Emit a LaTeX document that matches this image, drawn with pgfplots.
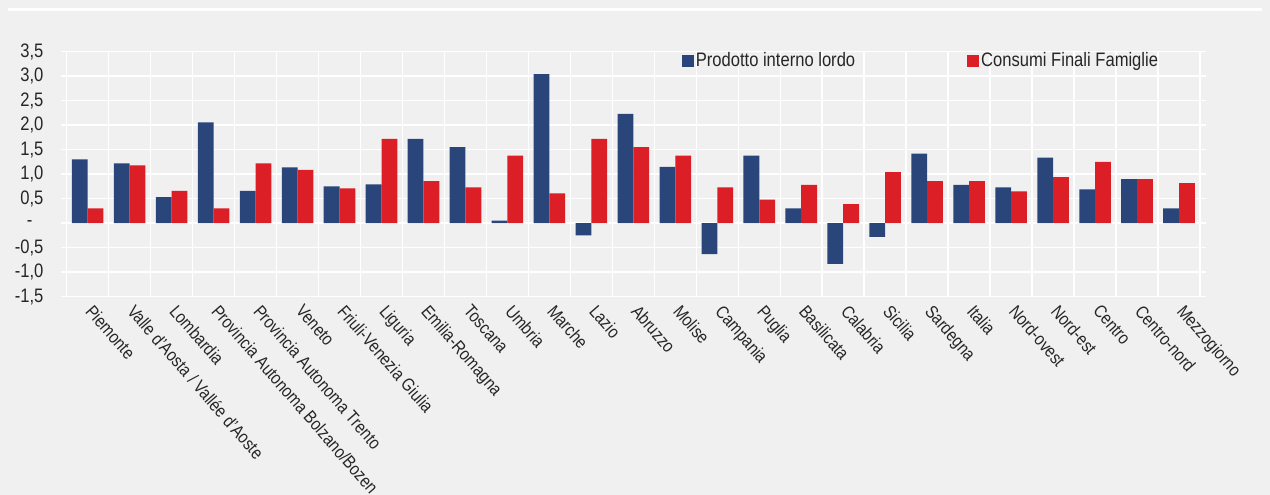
\documentclass[border=0pt]{standalone}
\usepackage{fontspec}
\setmainfont{Liberation Sans}[FakeStretch=0.85]
\usepackage{pgfplots}
\pgfplotsset{compat=1.18}
\usepackage{pgfplotstable}
\definecolor{bg}{HTML}{F0F0F0}
\definecolor{pilblue}{HTML}{2A4579}
\definecolor{conred}{HTML}{DC1E26}
\pgfplotstableread{
x pil con
0 1.30 0.30
1 1.22 1.18
2 0.53 0.66
3 2.06 0.30
4 0.66 1.22
5 1.14 1.09
6 0.75 0.71
7 0.79 1.72
8 1.72 0.86
9 1.55 0.73
10 0.05 1.38
11 3.04 0.61
12 -0.25 1.72
13 2.23 1.55
14 1.15 1.38
15 -0.63 0.73
16 1.38 0.48
17 0.30 0.78
18 -0.83 0.39
19 -0.28 1.04
20 1.42 0.86
21 0.78 0.86
22 0.73 0.65
23 1.34 0.94
24 0.69 1.25
25 0.90 0.90
26 0.30 0.82
}\datatable
\begin{document}
\begin{tikzpicture}
\useasboundingbox (0,0) rectangle (1270pt,495pt);
\fill[bg] (0,0) rectangle (1270pt,495pt);
\draw[white, line width=3pt] (8pt,485pt) -- (1262pt,485pt);
\begin{axis}[
  at={(66.7pt,198.3pt)}, anchor=south west,
  scale only axis, width=1133.3pt, height=245pt,
  xmin=-0.5, xmax=26.5, ymin=-1.5, ymax=3.5,
  ybar=0pt, bar width=15.8pt,
  axis line style={draw=white, line width=1.5pt},
  xtick={0,...,26},
  xticklabels={Piemonte,{Valle d'Aosta / Vallée d'Aoste},Lombardia,{Provincia Autonoma Bolzano/Bozen},{Provincia Autonoma Trento},Veneto,{Friuli-Venezia Giulia},Liguria,Emilia-Romagna,Toscana,Umbria,Marche,Lazio,Abruzzo,Molise,Campania,Puglia,Basilicata,Calabria,Sicilia,Sardegna,Italia,Nord-ovest,Nord-est,Centro,Centro-nord,Mezzogiorno},
  minor xtick={-0.5,0.5,...,26.5},
  xminorgrids, xmajorgrids=false,
  ytick={-1.5,-1,...,3.5},
  yticklabels={{-1,5},{-1,0},{-0,5},{-\kern11pt},{0,5},{1,0},{1,5},{2,0},{2,5},{3,0},{3,5}},
  ymajorgrids,
  grid style={white, line width=1.5pt},
  minor grid style={white, line width=1.5pt},
  major x tick style={draw=none},
  minor x tick style={draw=none},
  ytick style={white, line width=1.5pt},
  tick align=outside, major tick length=5.7pt,
  yticklabel style={font=\fontsize{19.5}{21}\selectfont, text=black!85, xshift=-14pt},
  xticklabel style={font=\fontsize{17.9}{19}\selectfont, text=black!85, xshift=7pt, yshift=2pt, rotate=-49, anchor=north west, inner sep=2pt},
  legend columns=2,
  legend style={at={(axis cs:14.15,3.32)}, anchor=west, draw=none, fill=none,
    font=\fontsize{19.5}{21}\selectfont, text=black!85,
    /tikz/every even column/.append style={column sep=110pt},
    inner sep=0pt},
  legend image code/.code={\fill[#1] (0pt,-6pt) rectangle (12pt,6pt);},
  clip=false,
]
\addplot[fill=pilblue, draw=none] table[x=x, y=pil] {\datatable};
\addplot[fill=conred, draw=none] table[x=x, y=con] {\datatable};
\legend{Prodotto interno lordo, Consumi Finali Famiglie}
\end{axis}
\end{tikzpicture}
\end{document}
